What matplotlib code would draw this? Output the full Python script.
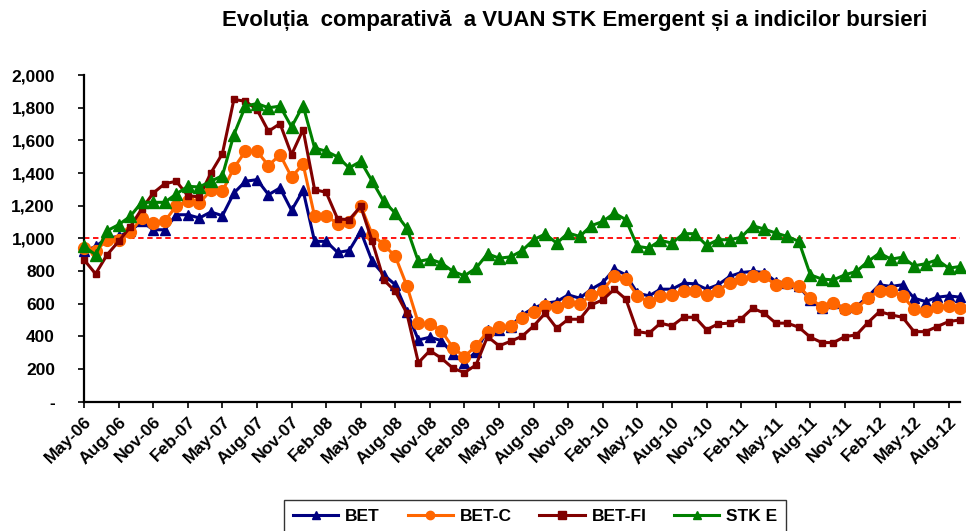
import numpy as np
import pandas as pd
import matplotlib
matplotlib.use('Agg')
import matplotlib.pyplot as plt
from matplotlib.ticker import FuncFormatter

plt.rcParams['font.family'] = ['Liberation Sans', 'DejaVu Sans']
plt.rcParams['font.weight'] = 'bold'

# monthly values, May-06 .. Sep-12
dates = pd.date_range('2006-05-01', periods=77, freq='MS')

bet = [920, 951, 1002, 1012, 1043, 1104, 1053, 1053, 1145, 1145, 1125, 1162, 1139, 1278, 1350, 1360,
       1268, 1309, 1172, 1294, 982, 982, 914, 926, 1043, 859, 777, 716, 552, 378, 395, 374,
       292, 239, 307, 440, 440, 460, 532, 573, 603, 613, 654, 634, 689, 730, 812, 777,
       665, 648, 689, 689, 726, 722, 689, 716, 767, 791, 798, 791, 736, 726, 706, 624,
       573, 603, 573, 583, 644, 716, 706, 716, 634, 613, 640, 648, 640]
bet_c = [940, 926, 988, 992, 1037, 1125, 1094, 1104, 1200, 1227, 1217, 1294, 1288, 1432, 1534, 1534,
         1446, 1513, 1376, 1455, 1135, 1139, 1090, 1098, 1200, 1023, 961, 890, 710, 481, 477, 434,
         331, 276, 342, 429, 456, 462, 511, 552, 587, 583, 613, 599, 654, 681, 771, 751,
         648, 613, 648, 654, 679, 679, 654, 681, 730, 752, 767, 767, 716, 726, 706, 634,
         579, 607, 566, 573, 634, 681, 675, 648, 566, 558, 579, 587, 573]
bet_fi = [869, 783, 900, 982, 1070, 1180, 1278, 1335, 1350, 1262, 1254, 1401, 1519, 1851, 1840, 1789,
          1656, 1703, 1513, 1667, 1299, 1282, 1119, 1115, 1196, 982, 746, 675, 542, 239, 313, 266,
          205, 178, 225, 399, 342, 370, 401, 464, 542, 450, 505, 505, 593, 624, 689, 628,
          429, 419, 481, 464, 517, 517, 440, 477, 481, 508, 573, 542, 481, 481, 456, 395,
          362, 362, 399, 409, 485, 552, 532, 517, 429, 429, 460, 491, 501]
stk_e = [951, 900, 1047, 1084, 1135, 1221, 1221, 1221, 1272, 1319, 1315, 1350, 1384, 1636, 1810, 1826,
         1800, 1810, 1683, 1814, 1554, 1534, 1499, 1432, 1472, 1350, 1227, 1155, 1063, 859, 873, 849,
         798, 771, 818, 906, 879, 887, 925, 992, 1027, 971, 1033, 1012, 1078, 1104, 1155, 1115,
         951, 941, 988, 971, 1029, 1029, 957, 992, 992, 1007, 1078, 1057, 1033, 1012, 982, 777,
         751, 746, 777, 798, 859, 910, 873, 885, 832, 845, 869, 818, 828]

series = [('BET', bet, '#000080', '^', 7.5),
          ('BET-C', bet_c, '#FF6600', 'o', 8.5),
          ('BET-FI', bet_fi, '#800000', 's', 4.5),
          ('STK E', stk_e, '#008000', '^', 8)]

x = np.arange(len(dates))
tick_pos = x[::3]
tick_labels = [d.strftime('%b-%y') for d in dates[::3]]

fig = plt.figure(figsize=(9.66, 5.31), dpi=100)
ax = fig.add_axes([0.087, 0.2435, 0.907, 0.615])

ax.plot([0, 76], [1000, 1000], color='#FF0000', ls=(0, (3, 2)), lw=1.3, zorder=1)

for name, vals, col, mk, ms in series:
    ax.plot(x, vals, color=col, marker=mk, markersize=ms, lw=2.2, label=name, clip_on=False, zorder=3)

ax.set_xlim(0, 76)
ax.set_ylim(0, 2000)
ax.set_yticks(range(0, 2001, 200))
ax.yaxis.set_major_formatter(FuncFormatter(lambda v, p: '-' if v == 0 else f'{v:,.0f}'))
ax.set_xticks(tick_pos)
ax.set_xticklabels(tick_labels, rotation=45, ha='right', rotation_mode='anchor')
ax.tick_params(axis='both', direction='out', length=4, width=1.2)
ax.tick_params(axis='y', pad=17, labelsize=12.5)
ax.tick_params(axis='x', pad=5, labelsize=12.5)
for side in ['top', 'right']:
    ax.spines[side].set_visible(False)
for side in ['left', 'bottom']:
    ax.spines[side].set_linewidth(1.6)

fig.text(0.595, 0.962, 'Evoluția  comparativă  a VUAN STK Emergent și a indicilor bursieri',
         ha='center', va='center', fontsize=16, fontweight='bold')

leg = fig.legend(loc='upper center', bbox_to_anchor=(0.554, 0.075), ncol=4, frameon=True,
                 fancybox=False, edgecolor='black', fontsize=12.5, handlelength=2.6,
                 handletextpad=0.4, columnspacing=1.6, borderpad=0.5)
leg.get_frame().set_linewidth(1.0)
for h in leg.legend_handles:
    h.set_markersize(6)

fig.savefig('out.png', dpi=100)
